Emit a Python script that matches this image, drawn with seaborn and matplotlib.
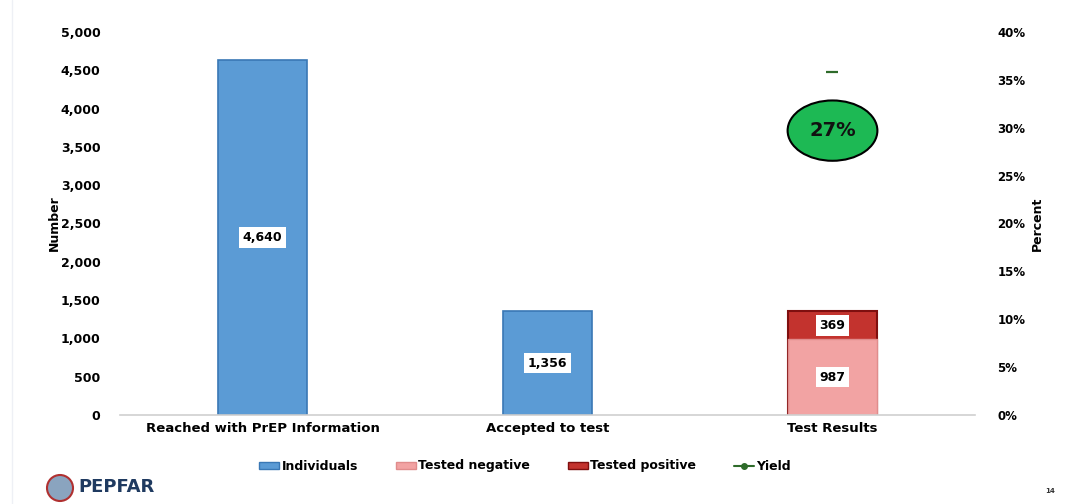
import matplotlib
matplotlib.use("Agg")
import matplotlib.pyplot as plt
import seaborn as sns
import numpy as np
from matplotlib.patches import Patch, Ellipse
from matplotlib.lines import Line2D
from matplotlib.ticker import FuncFormatter

categories = ["Reached with PrEP Information", "Accepted to test", "Test Results"]
individuals = [4640, 1356]
tested_negative = [987]
tested_positive = [369]
yield_label = "27%"
yield_marker_pct = [35.8]

c_blue = "#5B9BD5"; c_blue_e = "#3A78B5"
c_neg = "#F2A3A3"; c_neg_e = "#E08C8C"
c_pos = "#C3332E"; c_pos_e = "#7F0F0F"
c_green = "#1DB954"; c_yield = "#2E6B2A"

sns.set_theme(style="white")
plt.rcParams['font.family'] = ['DejaVu Sans']
plt.rcParams['font.weight'] = 'bold'
plt.rcParams['text.color'] = 'black'
plt.rcParams['axes.labelcolor'] = 'black'
plt.rcParams['xtick.color'] = 'black'
plt.rcParams['ytick.color'] = 'black'

fig = plt.figure(figsize=(10.66, 5.04), dpi=100)
ax = fig.add_axes([120/1066, 1-415/504, 855/1066, 383/504])

W = 0.31
sns.barplot(x=categories[:2], y=individuals, order=categories, color=c_blue,
            edgecolor=c_blue_e, linewidth=1.2, width=W, ax=ax, saturation=1)
total = [tested_negative[0] + tested_positive[0]]
sns.barplot(x=categories[2:], y=total, order=categories, color=c_pos,
            edgecolor=c_pos_e, linewidth=1.5, width=W, ax=ax, saturation=1)
sns.barplot(x=categories[2:], y=tested_negative, order=categories, color=c_neg,
            edgecolor=c_neg_e, linewidth=1.0, width=W, ax=ax, saturation=1)

box = dict(boxstyle="square,pad=0.3", fc="white", ec="none")
for i, v in enumerate(individuals):
    ax.text(i, v/2, f"{v:,}", ha="center", va="center", fontsize=9, fontweight="bold",
            color="black", bbox=box)
ax.text(2, tested_negative[0]/2, f"{tested_negative[0]:,}", ha="center", va="center",
        fontsize=9, fontweight="bold", bbox=box)
ax.text(2, tested_negative[0] + tested_positive[0]/2, f"{tested_positive[0]:,}", ha="center",
        va="center", fontsize=9, fontweight="bold", bbox=box)

ax.set_ylim(0, 5000)
ax.set_xlim(-0.5, 2.5)
ax.set_yticks(np.arange(0, 5001, 500))
ax.yaxis.set_major_formatter(FuncFormatter(lambda v, p: f"{int(v):,}"))
ax.tick_params(axis="y", length=0, pad=14, labelsize=9)
ax.tick_params(axis="x", length=0, pad=5, labelsize=9.5)
for lab in ax.get_xticklabels() + ax.get_yticklabels():
    lab.set_fontweight("bold")
ax.set_ylabel("Number", fontsize=9, fontweight="bold", labelpad=0)
ax.set_xlabel("")
for s in ["top", "right", "left"]:
    ax.spines[s].set_visible(False)
ax.spines["bottom"].set_color("#D0D0D0")
ax.spines["bottom"].set_linewidth(1.2)

ax2 = ax.twinx()
ax2.set_ylim(0, 40)
ax2.set_yticks(np.arange(0, 41, 5))
ax2.yaxis.set_major_formatter(FuncFormatter(lambda v, p: f"{int(v)}%"))
ax2.tick_params(axis="y", length=0, pad=16, labelsize=8.5)
for lab in ax2.get_yticklabels():
    lab.set_fontweight("bold")
ax2.set_ylabel("Percent", fontsize=9, fontweight="bold", labelpad=4)
for s in ax2.spines.values():
    s.set_visible(False)
ax2.grid(False); ax.grid(False)

ax2.plot([2], yield_marker_pct, marker="_", markersize=8, markeredgewidth=1.6,
         color=c_yield, linestyle="none", zorder=7)
ax2.set_xlim(-0.5, 2.5)

ell = Ellipse((2, 29.7), 0.315, 6.3, fc=c_green, ec="black", lw=1.5, zorder=5)
ax2.add_patch(ell)
ax2.text(2, 29.7, yield_label, ha="center", va="center", fontsize=14, fontweight="bold",
         color="#111111", zorder=6)

handles = [Patch(fc=c_blue, ec=c_blue_e), Patch(fc=c_neg, ec=c_neg_e),
           Patch(fc=c_pos, ec=c_pos_e),
           Line2D([0], [0], color=c_yield, marker="o", markersize=4, lw=1.5)]
labels = ["Individuals", "Tested negative", "Tested positive", "Yield"]
fig.legend(handles, labels, loc="center", bbox_to_anchor=(525/1066, 1-466/504), ncol=4,
           frameon=False, handlelength=1.6, handleheight=0.5,
           handletextpad=0.2, columnspacing=3.0, prop=dict(weight="bold", size=9))

# footer
fig.add_artist(Ellipse((60/1066, 1-488/504), 26/1066, 26/504, transform=fig.transFigure,
                       fc="#8AA4BF", ec="#B03030", lw=1.5))
fig.text(78/1066, 1-487/504, "PEPFAR", fontsize=13, fontweight="bold", color="#1F3A60",
         va="center")
fig.text(1050/1066, 1-491/504, "14", fontsize=5, fontweight="bold", color="#333333",
         ha="center", va="center")
fig.add_artist(Line2D([12/1066, 12/1066], [0, 1], transform=fig.transFigure,
                      color="#EEF0F5", lw=1))

fig.savefig("out.png", dpi=100)
